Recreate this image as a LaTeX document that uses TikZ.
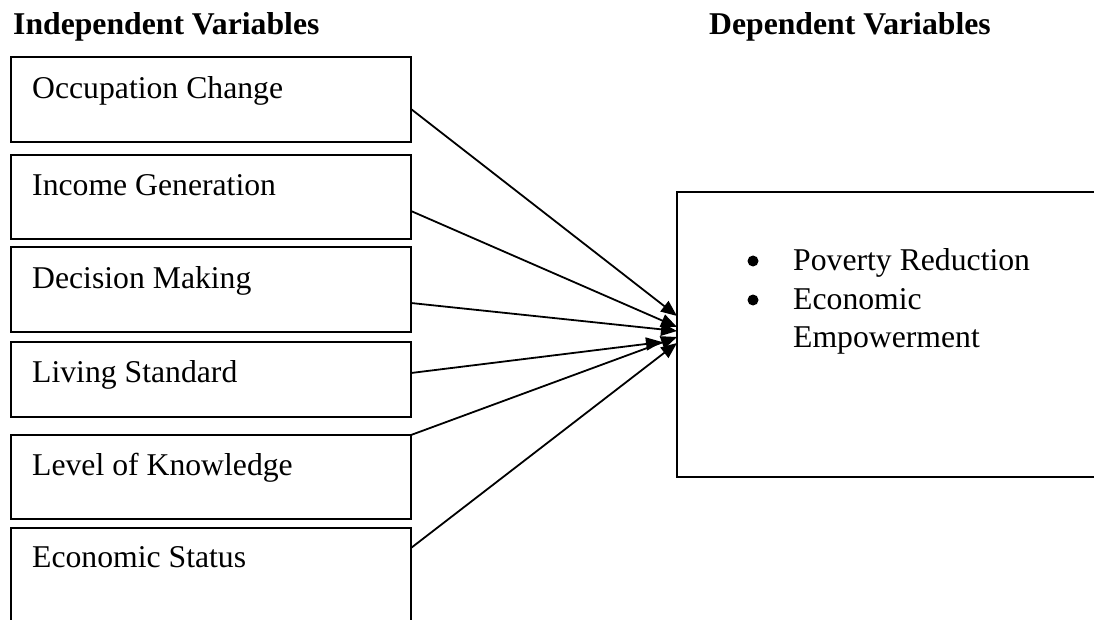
\documentclass[tikz,border=0pt]{standalone}
\usepackage{fontspec}
\setmainfont{Liberation Serif}
\usetikzlibrary{arrows.meta}
\begin{document}
\begin{tikzpicture}[x=1pt,y=-1pt,
  box/.style={draw, line width=1.9pt, rectangle, anchor=north west, minimum width=400pt, inner sep=0pt, outer sep=0pt},
  lbl/.style={anchor=base west, inner sep=0pt, font=\fontsize{31.7}{38.5}\selectfont},
  head/.style={anchor=base west, inner sep=0pt, font=\fontsize{31.7}{38.5}\selectfont\bfseries},
  bul/.style={circle, fill, inner sep=0pt, minimum size=11pt},
  conn/.style={line width=1.8pt, -{Triangle[length=16pt,width=13pt]}}]
\clip (0,0) rectangle (1094,620);
\useasboundingbox (0,0) rectangle (1094,620);
% headers
\node[head] (hind) at (13,35) {Independent Variables};
\node[head] (hdep) at (709,35) {Dependent Variables};
% independent boxes
\node[box, minimum height=85pt] (occ) at (11,57) {};
\node[box, minimum height=84pt] (inc) at (11,155) {};
\node[box, minimum height=85pt] (dec) at (11,247) {};
\node[box, minimum height=75pt] (liv) at (11,342) {};
\node[box, minimum height=84pt] (lev) at (11,435) {};
\node[box, minimum height=112pt] (eco) at (11,528) {};
\node[lbl] (tocc) at (32,99) {Occupation Change};
\node[lbl] (tinc) at (32,196) {Income Generation};
\node[lbl] (tdec) at (32,288) {Decision Making};
\node[lbl] (tliv) at (32,382) {Living Standard};
\node[lbl] (tlev) at (32,475) {Level of Knowledge};
\node[lbl] (teco) at (32,567) {Economic Status};
% dependent box
\node[box, minimum width=433pt, minimum height=285pt] (dep) at (677,192) {};
\node[bul] (b1) at (753,261) {};
\node[lbl] (p1) at (793,270) {Poverty Reduction};
\node[bul] (b2) at (753,300) {};
\node[lbl] (p2) at (793,309) {Economic};
\node[lbl] (p3) at (793,347) {Empowerment};
% connectors
\draw[conn] ([yshift=-9.5pt]occ.east) -- ([yshift=18.5pt]dep.west);
\draw[conn] ([yshift=-14pt]inc.east) -- ([yshift=7.5pt]dep.west);
\draw[conn] ([yshift=-13.5pt]dec.east) -- ([yshift=3.5pt]dep.west);
\draw[conn] ([yshift=6.5pt]liv.east) -- ([xshift=-15pt,yshift=-7.5pt]dep.west);
\draw[conn] (lev.north east) -- ([yshift=-2.5pt]dep.west);
\draw[conn] ([yshift=-20pt]eco.north east) -- ([yshift=-8.5pt]dep.west);
\end{tikzpicture}
\end{document}
